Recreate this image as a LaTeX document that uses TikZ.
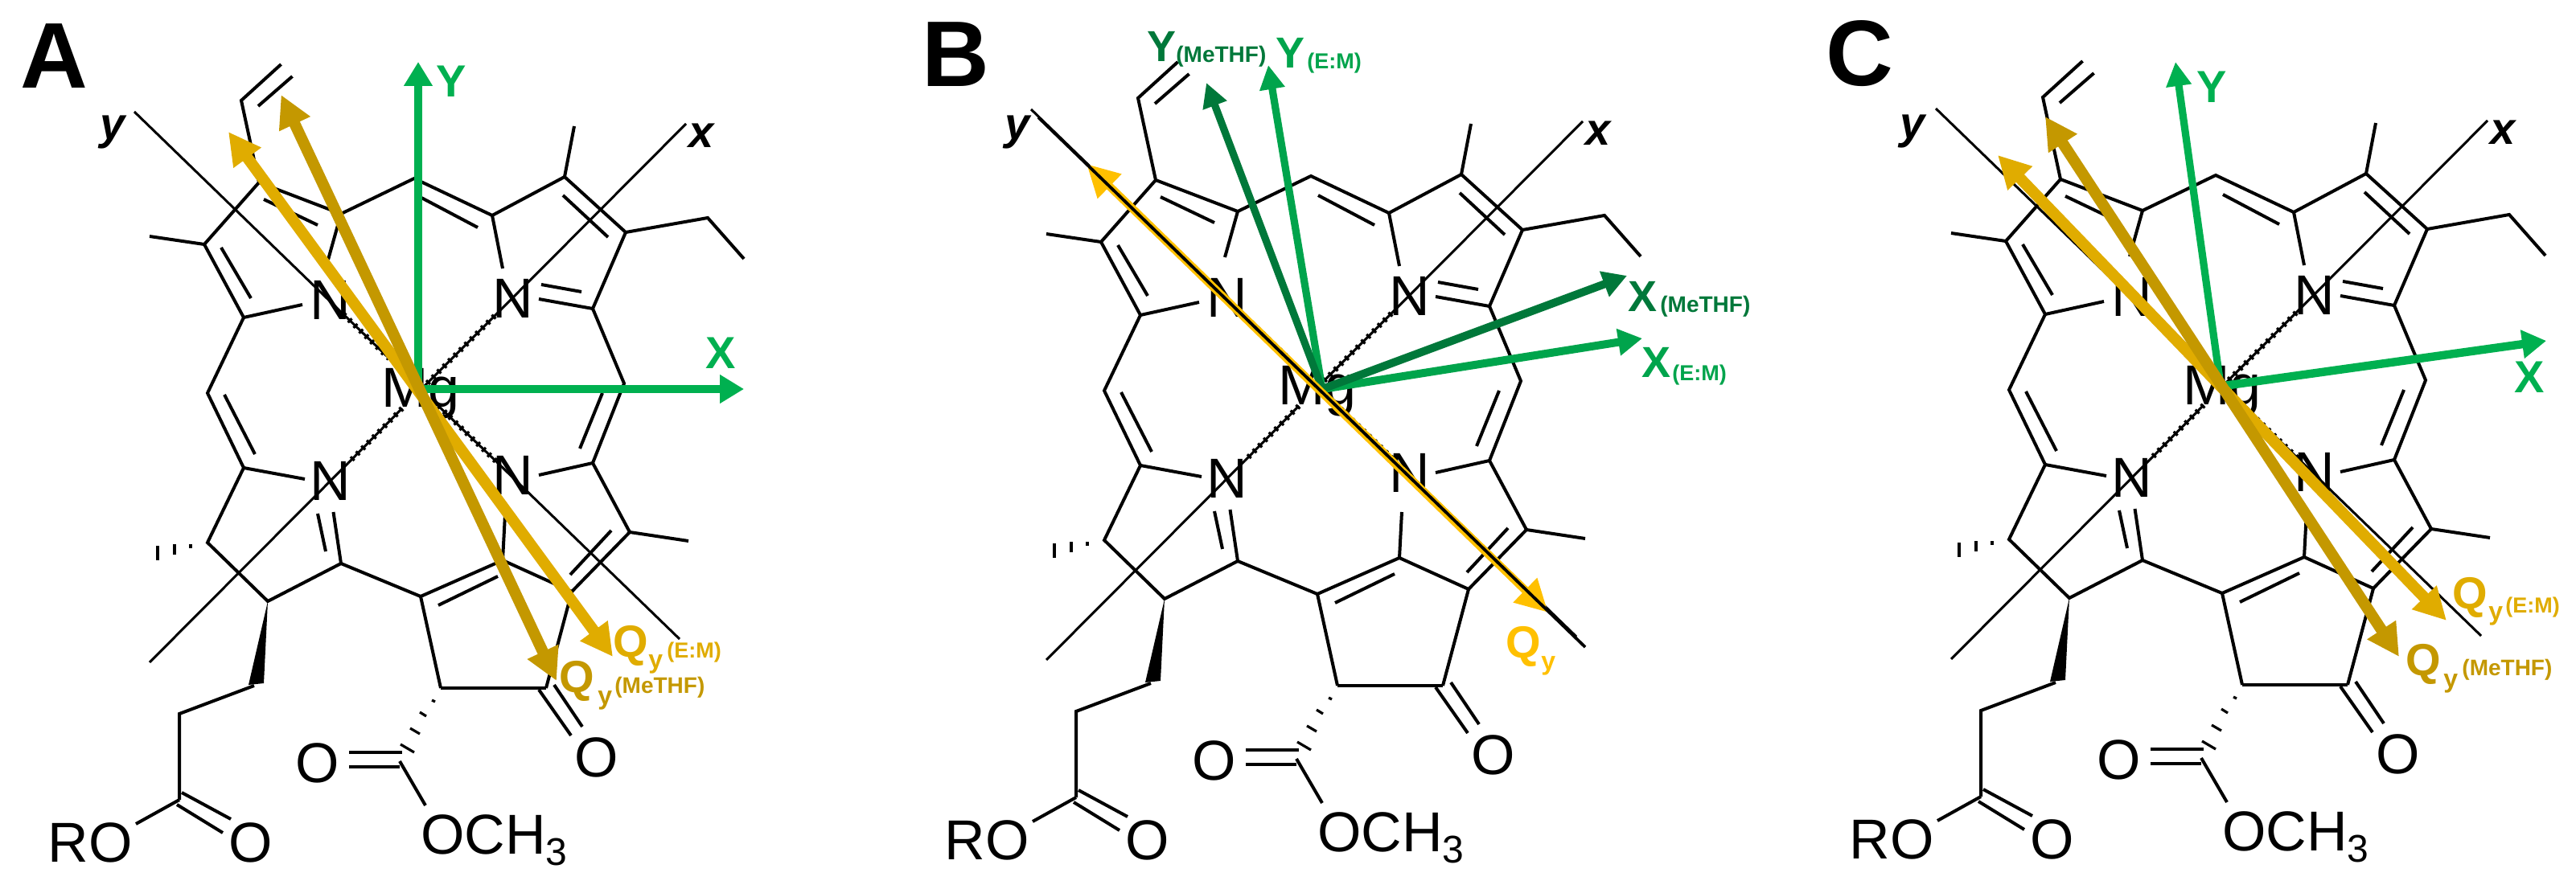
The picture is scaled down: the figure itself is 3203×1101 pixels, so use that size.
\documentclass[tikz,border=0pt]{standalone}
\usepackage{fontspec}
\setmainfont{Liberation Sans}
\usetikzlibrary{arrows.meta}
\definecolor{grn}{HTML}{00B050}
\definecolor{grnD}{HTML}{00783A}
\definecolor{grnE}{HTML}{00A44C}
\definecolor{goldE}{HTML}{E0AC00}
\definecolor{goldM}{HTML}{C49800}
\definecolor{goldQ}{HTML}{FFC000}
\tikzset{
  bond/.style={line width=2pt,line join=miter,line cap=butt},
  axisline/.style={line width=1.5pt},
  hashbond/.style={line width=3.4pt,dash pattern=on 1.6pt off 3.2pt},
  hashstroke/.style={line width=1.6pt},
  atomlabel/.style={inner sep=0pt,anchor=base,font=\fontsize{35}{35}\selectfont},
  txt/.style={inner sep=0pt,anchor=base west},
  vec/.style={line width=5.2pt,-{Triangle[length=15pt,width=17pt]}},
  vecd/.style={line width=7pt,{Triangle[length=20pt,width=20pt]}-{Triangle[length=20pt,width=20pt]}}
}
\newcommand\lbl[6]{\node[txt,text=#2,font=\fontsize{#3}{#3}\selectfont\bfseries] (#1) at (#4,#5) {#6};}
\newcommand\molecule{
  \coordinate (va) at (349.5,80);
  \coordinate (vb) at (300,125);
  \coordinate (a) at (322,227);
  \coordinate (b) at (424,266);
  \coordinate (c) at (515,222);
  \coordinate (d) at (612,268);
  \coordinate (e) at (702,220);
  \coordinate (f) at (778,289);
  \coordinate (g) at (880,271);
  \coordinate (h) at (737,384);
  \coordinate (i) at (776,477);
  \coordinate (j) at (737,576);
  \coordinate (k) at (783,662);
  \coordinate (l) at (711,736);
  \coordinate (m) at (625,697);
  \coordinate (n) at (523,742);
  \coordinate (o) at (548,856);
  \coordinate (p) at (679,856);
  \coordinate (q) at (424,701);
  \coordinate (r) at (333,748);
  \coordinate (s) at (316,853);
  \coordinate (t) at (258,675);
  \coordinate (u) at (303,582);
  \coordinate (v) at (258,489);
  \coordinate (w) at (303,395);
  \coordinate (xx) at (254,304);
  \coordinate (z) at (223,888);
  \coordinate (za) at (223,995);
  \coordinate (ce) at (497,947);
  % axes
  \coordinate (yTop) at (167,139);
  \coordinate (yH1) at (427,391);
  \coordinate (yH2) at (484,446);
  \coordinate (yH3) at (545,505);
  \coordinate (yH4) at (620,577);
  \coordinate (yEnd) at (845,795);
  \coordinate (xTop) at (853,154);
  \coordinate (xH1) at (615,393);
  \coordinate (xH2) at (527,481);
  \coordinate (xH3) at (500,508);
  \coordinate (xH4) at (433,576);
  \coordinate (xEnd) at (186,824);
  \draw[axisline] (yTop) -- (yH1) (yH4) -- (yEnd) (xTop) -- (xH1) (xH4) -- (xEnd);
  \draw[axisline] (yH1) -- (yH2) (yH3) -- (yH4) (xH1) -- (xH2) (xH3) -- (xH4);
  \draw[hashbond] (yH1) -- (yH2) (yH3) -- (yH4) (xH1) -- (xH2) (xH3) -- (xH4);
  % skeleton
  \draw[bond] (va) -- (vb) -- (a) -- (b) -- (c) -- (d) -- (e) -- (f) -- (g) -- (925,322);
  \draw[bond] (363.5,95) -- (321,132);
  \draw[bond] (328,248) -- (395,280);
  \draw[bond] (524,246) -- (594,283);
  \draw[bond] (700,243) -- (756,295);
  \draw[bond] (e) -- (714,157);
  \draw[bond] (f) -- (h) -- (i) -- (j) -- (k) -- (l) -- (m) -- (n) -- (o);
  \draw[bond] (h) -- (670,372);
  \draw[bond] (673,354) -- (723,363);
  \draw[bond] (d) -- (625,334);
  \draw[bond] (749,489) -- (721,558);
  \draw[bond] (j) -- (670,591);
  \draw[bond] (k) -- (856,673);
  \draw[bond] (760,660) -- (709,715);
  \draw[bond] (m) -- (628,640);
  \draw[bond] (619,717) -- (545,753);
  \draw[bond,line width=2.4pt] (o) -- (p);
  \draw[bond] (p) -- (l);
  \draw[bond] (670,858) -- (710,915);
  \draw[bond] (689,852) -- (724,904);
  \draw[bond] (n) -- (q) -- (r) -- (t) -- (u) -- (v) -- (w) -- (xx) -- (a);
  \draw[bond] (q) -- (414.5,637);
  \draw[bond] (405,686) -- (395,639);
  \draw[bond] (u) -- (379,596);
  \draw[bond] (279,491) -- (317,565);
  \draw[bond] (w) -- (376,379);
  \draw[bond] (312,371) -- (275,308);
  \draw[bond] (xx) -- (186,294);
  \draw[bond] (b) -- (408,323);
  \fill (r) -- (309,852) -- (328,850) -- cycle;
  \draw[bond] (s) -- (z) -- (za);
  \draw[bond] (226,986) -- (287,1019);
  \draw[bond] (220,1001) -- (277,1036);
  \draw[bond] (za) -- (169,1025);
  \draw[bond] (434,936) -- (500,936);
  \draw[bond] (434,954) -- (497,954);
  \draw[bond] (ce) -- (529,1002);
  % hashed stereo bonds
  \draw[hashstroke] (237,677) -- (237,682) (217,677) -- (217,690) (196,679) -- (196,697);
  \draw[hashstroke] (537,871) -- (541,873) (522,886) -- (530,891) (510,906) -- (522,913) (498,926) -- (515,936);
  % atoms
  \node[atomlabel] (N1) at (411,398) {N};
  \node[atomlabel] (N2) at (638,396) {N};
  \node[atomlabel] (N3) at (411,622) {N};
  \node[atomlabel] (N4) at (638,615) {N};
  \node[atomlabel] (Mg) at (523,507) {Mg};
  \node[atomlabel] (O1) at (742,966) {O};
  \node[atomlabel] (O2) at (395,973) {O};
  \node[atomlabel] (O3) at (312,1072) {O};
  \node[atomlabel] (RO) at (112,1072) {RO};
  \node[atomlabel,anchor=base west] (OM) at (523,1062) {OCH\raisebox{-7pt}{\fontsize{24}{24}\selectfont 3}};
  \node[inner sep=0pt,anchor=base,font=\fontsize{28}{28}\selectfont\bfseries\itshape] (xlab) at (872,184) {x};
}
\begin{document}
\begin{tikzpicture}[x=0.5pt,y=-0.5pt]
\useasboundingbox (0,0) rectangle (3203,1101);
% ---------- A
\begin{scope}[name prefix=A-]
  \molecule
  \node[inner sep=0pt,anchor=base,font=\fontsize{28}{28}\selectfont\bfseries\itshape] (ylab) at (140,174) {y};
  \node[inner sep=0pt,anchor=base,font=\fontsize{58}{58}\selectfont\bfseries] (title) at (67,110) {A};
  \coordinate (cen) at (520,484);
  \coordinate (cenx) at (525,484);
  \coordinate (Yt) at (520,77);
  \coordinate (Xt) at (925,484);
  \coordinate (QEa) at (284,164);
  \coordinate (QEb) at (762,817);
  \coordinate (QMa) at (349.5,118);
  \coordinate (QMb) at (692,847);
  \draw[vec,grn] (cen) -- (Yt);
  \draw[vec,grn] (cenx) -- (Xt);
  \draw[vecd,goldE] (QEa) -- (QEb);
  \draw[vecd,goldM] (QMa) -- (QMb);
  \node[inner sep=0pt,anchor=base,text=grn,font=\fontsize{28}{28}\selectfont\bfseries] (Ylab) at (561,121) {Y};
  \node[inner sep=0pt,anchor=base,text=grn,font=\fontsize{28}{28}\selectfont\bfseries] (Xlab) at (896,459) {X};
  \lbl{q1}{goldE}{28}{762}{817}{Q}
  \lbl{q2}{goldE}{16}{806}{831}{y}
  \lbl{q3}{goldE}{13.5}{829}{818}{(E:M)}
  \lbl{q4}{goldM}{28}{695}{861}{Q}
  \lbl{q5}{goldM}{16}{743}{876}{y}
  \lbl{q6}{goldM}{14}{764}{862}{(MeTHF)}
\end{scope}
% ---------- B
\begin{scope}[shift={(1115,-3)},name prefix=B-]
  \molecule
  \node[inner sep=0pt,anchor=base,font=\fontsize{28}{28}\selectfont\bfseries\itshape] (ylab) at (150,177) {y};
\end{scope}
\begin{scope}[name prefix=B-]
  \node[inner sep=0pt,anchor=base,font=\fontsize{58}{58}\selectfont\bfseries] (title) at (1188,108) {B};
  \coordinate (cen) at (1644,484);
  \coordinate (Ymt) at (1500,103);
  \coordinate (Yet) at (1577,81);
  \coordinate (Xmt) at (2023,343);
  \coordinate (Xet) at (2042,421);
  \coordinate (Qa) at (1351,204);
  \coordinate (Qb) at (1925,762);
  \coordinate (lnA) at (1291,146);
  \coordinate (lnB) at (1971,805);
  \draw[vec,grnE,line width=4.6pt,-{Triangle[length=15pt,width=15pt]}] (cen) -- (Yet);
  \draw[vec,grnD,line width=4.6pt,-{Triangle[length=15pt,width=15pt]}] (cen) -- (Ymt);
  \draw[vec,grnE,line width=5pt,-{Triangle[length=15pt,width=16pt]}] (cen) -- (Xet);
  \draw[vec,grnD,line width=5pt,-{Triangle[length=15pt,width=16pt]}] (cen) -- (Xmt);
  \draw[vecd,goldQ,line width=5pt] (Qa) -- (Qb);
  \draw[axisline,line width=1.9pt] (lnA) -- (lnB);
  \node[inner sep=0pt,anchor=base,text=grnD,font=\fontsize{27}{27}\selectfont\bfseries] (l1) at (1444,77) {Y};
  \lbl{l2}{grnD}{14}{1462}{78}{(MeTHF)}
  \node[inner sep=0pt,anchor=base,text=grnE,font=\fontsize{27}{27}\selectfont\bfseries] (l3) at (1604,85) {Y};
  \lbl{l4}{grnE}{13.5}{1625}{86}{(E:M)}
  \node[inner sep=0pt,anchor=base,text=grnD,font=\fontsize{27}{27}\selectfont\bfseries] (l5) at (2042,388) {X};
  \lbl{l6}{grnD}{14}{2064}{389}{(MeTHF)}
  \node[inner sep=0pt,anchor=base,text=grnE,font=\fontsize{27}{27}\selectfont\bfseries] (l7) at (2059,470) {X};
  \lbl{l8}{grnE}{13.5}{2079}{474}{(E:M)}
  \lbl{l9}{goldQ}{28}{1872}{818}{Q}
  \lbl{l10}{goldQ}{16}{1916}{833}{y}
\end{scope}
% ---------- C
\begin{scope}[shift={(2240,-4)},name prefix=C-]
  \molecule
  \node[inner sep=0pt,anchor=base,font=\fontsize{28}{28}\selectfont\bfseries\itshape] (ylab) at (138,177) {y};
\end{scope}
\begin{scope}[name prefix=C-]
  \node[inner sep=0pt,anchor=base,font=\fontsize{58}{58}\selectfont\bfseries] (title) at (2312,107) {C};
  \coordinate (cen) at (2761,479);
  \coordinate (cenx) at (2765,480);
  \coordinate (Yt) at (2705,77);
  \coordinate (Xt) at (3166,424);
  \coordinate (QEa) at (2484,193);
  \coordinate (QEb) at (3042,772);
  \coordinate (QMa) at (2543,145);
  \coordinate (QMb) at (2983,817);
  \draw[vec,grn,line width=4.6pt,-{Triangle[length=15pt,width=15pt]}] (cen) -- (Yt);
  \draw[vec,grn] (cenx) -- (Xt);
  \draw[vecd,goldE] (QEa) -- (QEb);
  \draw[vecd,goldM] (QMa) -- (QMb);
  \node[inner sep=0pt,anchor=base,text=grn,font=\fontsize{28}{28}\selectfont\bfseries] (Ylab) at (2750,128) {Y};
  \node[inner sep=0pt,anchor=base,text=grn,font=\fontsize{28}{28}\selectfont\bfseries] (Xlab) at (3145,489) {X};
  \lbl{q1}{goldE}{28}{3049}{757}{Q}
  \lbl{q2}{goldE}{16}{3094}{771}{y}
  \lbl{q3}{goldE}{13.5}{3115}{762}{(E:M)}
  \lbl{q4}{goldM}{28}{2991}{840}{Q}
  \lbl{q5}{goldM}{16}{3038}{855}{y}
  \lbl{q6}{goldM}{14}{3061}{840}{(MeTHF)}
\end{scope}
\end{tikzpicture}
\end{document}
